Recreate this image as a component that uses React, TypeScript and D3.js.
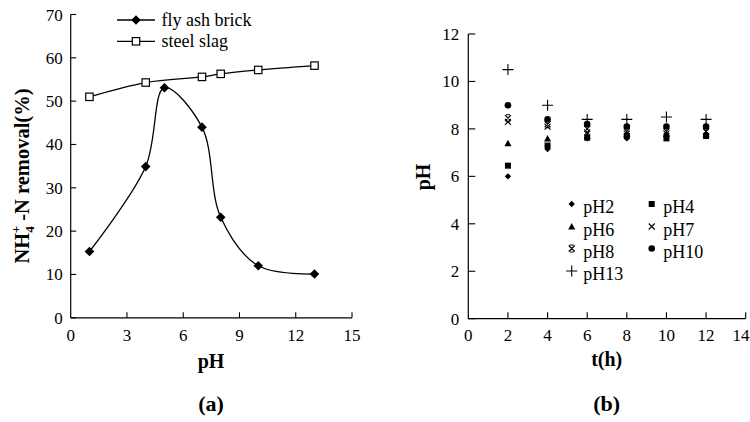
import React from "react";
import * as d3 from "d3";

// ---------- Panel (a) data ----------
const phA = [1, 4, 5, 7, 8, 10, 13];
const flyAsh = [15.3, 34.9, 53.1, 44.0, 23.2, 12.0, 10.1];
const phSlag = [1, 4, 7, 8, 10, 13];
const steelSlag = [51.0, 54.3, 55.6, 56.3, 57.2, 58.2];
const aXTicks = [0, 3, 6, 9, 12, 15];
const aYTicks = [0, 10, 20, 30, 40, 50, 60, 70];

// ---------- Panel (b) data ----------
const tHours = [2, 4, 6, 8, 10, 12];
const pH2 = [6.0, 7.15, 7.6, 7.6, 7.7, 7.7];
const pH4 = [6.45, 7.3, 7.63, 7.7, 7.6, 7.7];
const pH6 = [7.4, 7.6, 7.7, 7.8, 7.8, 7.8];
const pH7 = [8.3, 8.1, 7.85, 7.8, 7.8, 7.9];
const pH8 = [8.45, 8.2, 8.0, 7.9, 7.9, 7.9];
const pH10 = [9.0, 8.4, 8.2, 8.1, 8.1, 8.1];
const pH13 = [10.5, 9.0, 8.4, 8.4, 8.5, 8.4];
const bSeriesNames = ["pH2", "pH4", "pH6", "pH7", "pH8", "pH10", "pH13"];
const bXTicks = [0, 2, 4, 6, 8, 10, 12, 14];
const bYTicks = [0, 2, 4, 6, 8, 10, 12];

const FONT = "Liberation Serif, Times New Roman, DejaVu Serif, serif";
const TS = { fontFamily: FONT } as React.CSSProperties;

type Shape = "diamond" | "square" | "triangle" | "x" | "star" | "circle" | "plus";

function Marker({ shape, x, y }: { shape: Shape; x: number; y: number }) {
  const s = 3.2;
  switch (shape) {
    case "diamond":
      return <path d={`M${x},${y - s}L${x + s},${y}L${x},${y + s}L${x - s},${y}Z`} fill="#000" />;
    case "square":
      return <rect x={x - 3} y={y - 3} width={6} height={6} fill="#000" />;
    case "triangle":
      return <path d={`M${x},${y - 3.5}L${x + 3.5},${y + 3}L${x - 3.5},${y + 3}Z`} fill="#000" />;
    case "x":
      return (
        <path d={`M${x - 3},${y - 3}L${x + 3},${y + 3}M${x - 3},${y + 3}L${x + 3},${y - 3}`} stroke="#000" strokeWidth={1.1} />
      );
    case "star":
      return (
        <path
          d={`M${x - 3},${y - 3}L${x + 3},${y + 3}M${x - 3},${y + 3}L${x + 3},${y - 3}M${x - 2},${y - 3.5}L${x + 2},${y - 3.5}M${x - 2},${y + 3.5}L${x + 2},${y + 3.5}`}
          stroke="#000"
          strokeWidth={1.1}
        />
      );
    case "circle":
      return <circle cx={x} cy={y} r={3.3} fill="#000" />;
    case "plus":
      return <path d={`M${x - 5.5},${y}L${x + 5.5},${y}M${x},${y - 5.5}L${x},${y + 5.5}`} stroke="#000" strokeWidth={1.1} />;
  }
  return null;
}

export default function App() {
  // Panel (a) scales
  const ax = d3.scaleLinear().domain([0, 15]).range([70.7, 352]);
  const ay = d3.scaleLinear().domain([0, 70]).range([317.8, 14.5]);
  // Panel (b) scales
  const bx = d3.scaleLinear().domain([0, 14]).range([468.3, 745.7]);
  const by = d3.scaleLinear().domain([0, 12]).range([318.7, 34]);

  const line = (xs: number[], ys: number[], sx: any, sy: any) =>
    d3
      .line<number>()
      .x((_, i) => sx(xs[i]))
      .y((d) => sy(d))
      .curve(d3.curveCatmullRom.alpha(0.5))(ys) || "";

  const bSeries = [pH2, pH4, pH6, pH7, pH8, pH10, pH13];
  const bShapes: Shape[] = ["diamond", "square", "triangle", "x", "star", "circle", "plus"];
  // legend layout (b)
  const legCol = [571.7, 651.7];
  const legRowBase = [213, 235.5, 257.5, 280];

  const dia = (x: number, y: number, s = 4.8) => `M${x},${y - s}L${x + s},${y}L${x},${y + s}L${x - s},${y}Z`;

  return (
    <svg
      width={750}
      height={422}
      style={{ position: "absolute", left: 0, top: 0, background: "#fff", fontFamily: FONT }}
    >
      <rect width={750} height={422} fill="#fff" />
      {/* ================= Panel (a) ================= */}
      <g>
        <line x1={ax(0)} x2={ax(0)} y1={ay(70)} y2={ay(0)} stroke="#000" strokeWidth={1.2} />
        <line x1={ax(0)} x2={ax(15)} y1={ay(0)} y2={ay(0)} stroke="#000" strokeWidth={1.2} />
        {aYTicks.map((t) => (
          <g key={"ay" + t}>
            <line x1={ax(0)} x2={ax(0) + 5.5} y1={ay(t)} y2={ay(t)} stroke="#000" strokeWidth={1.1} />
            <text x={ax(0) - 8} y={ay(t) + 6} textAnchor="end" fontSize={17} style={TS}>
              {t}
            </text>
          </g>
        ))}
        {aXTicks.map((t) => (
          <g key={"ax" + t}>
            {t > 0 && <line x1={ax(t)} x2={ax(t)} y1={ay(0)} y2={ay(0) - 5.5} stroke="#000" strokeWidth={1.1} />}
            <text x={ax(t)} y={341} textAnchor="middle" fontSize={17} style={TS}>
              {t}
            </text>
          </g>
        ))}
        <path d={line(phA, flyAsh, ax, ay)} fill="none" stroke="#000" strokeWidth={1.3} />
        <path d={line(phSlag, steelSlag, ax, ay)} fill="none" stroke="#000" strokeWidth={1.3} />
        {phA.map((p, i) => (
          <path key={"fa" + i} d={dia(ax(p), ay(flyAsh[i]))} fill="#000" />
        ))}
        {phSlag.map((p, i) => (
          <rect
            key={"ss" + i}
            x={ax(p) - 3.7}
            y={ay(steelSlag[i]) - 3.7}
            width={7.4}
            height={7.4}
            fill="#fff"
            stroke="#000"
            strokeWidth={1.2}
          />
        ))}
        {/* legend */}
        <line x1={117} x2={155} y1={20} y2={20} stroke="#000" strokeWidth={1.3} />
        <path d={dia(136, 20)} fill="#000" />
        <text x={161.5} y={26} fontSize={18} style={TS}>
          fly ash brick
        </text>
        <line x1={117} x2={155} y1={41.3} y2={41.3} stroke="#000" strokeWidth={1.3} />
        <rect x={136 - 3.7} y={41.3 - 3.7} width={7.4} height={7.4} fill="#fff" stroke="#000" strokeWidth={1.2} />
        <text x={161.5} y={47.3} fontSize={18} style={TS}>
          steel slag
        </text>
        {/* axis titles */}
        <text x={211} y={367.5} textAnchor="middle" fontSize={20} fontWeight="bold" style={TS}>
          pH
        </text>
        <text x={211} y={411} textAnchor="middle" fontSize={22} fontWeight="bold" style={TS}>
          (a)
        </text>
        <text transform="translate(29,176) rotate(-90)" textAnchor="middle" fontSize={20.5} fontWeight="bold" style={TS}>
          NH
          <tspan fontSize={13} dy={5}>
            4
          </tspan>
          <tspan fontSize={13} dx={-7} dy={-14}>
            +
          </tspan>
          <tspan dy={9}> -N removal(%)</tspan>
        </text>
      </g>

      {/* ================= Panel (b) ================= */}
      <g>
        <line x1={bx(0)} x2={bx(0)} y1={by(12)} y2={by(0)} stroke="#000" strokeWidth={1.2} />
        <line x1={bx(0)} x2={bx(14)} y1={by(0)} y2={by(0)} stroke="#000" strokeWidth={1.2} />
        {bYTicks.map((t) => (
          <g key={"by" + t}>
            <line x1={bx(0)} x2={bx(0) + 7} y1={by(t)} y2={by(t)} stroke="#000" strokeWidth={1.1} />
            <text x={bx(0) - 9} y={by(t) + 6} textAnchor="end" fontSize={17} style={TS}>
              {t}
            </text>
          </g>
        ))}
        {bXTicks.map((t) => (
          <g key={"bx" + t}>
            {t > 0 && <line x1={bx(t)} x2={bx(t)} y1={by(0)} y2={by(0) - 6.5} stroke="#000" strokeWidth={1.1} />}
            <text x={Math.min(bx(t), 741)} y={341} textAnchor="middle" fontSize={17} style={TS}>
              {t}
            </text>
          </g>
        ))}
        {bSeries.map((vals, si) =>
          vals.map((v, i) => <Marker key={`b${si}-${i}`} shape={bShapes[si]} x={bx(tHours[i])} y={by(v)} />)
        )}
        {bSeriesNames.map((name, i) => {
          const col = i % 2;
          const row = Math.floor(i / 2);
          const mx = legCol[col];
          const base = legRowBase[row];
          return (
            <g key={"leg" + name}>
              <Marker shape={bShapes[i]} x={mx} y={base - 9} />
              <text x={mx + 11.5} y={base} fontSize={18} style={TS}>
                {name}
              </text>
            </g>
          );
        })}
        <text x={606.7} y={366} textAnchor="middle" fontSize={20} fontWeight="bold" style={TS}>
          t(h)
        </text>
        <text x={606.7} y={411} textAnchor="middle" fontSize={22} fontWeight="bold" style={TS}>
          (b)
        </text>
        <text transform="translate(430,177) rotate(-90)" textAnchor="middle" fontSize={20} fontWeight="bold" style={TS}>
          pH
        </text>
      </g>
    </svg>
  );
}
